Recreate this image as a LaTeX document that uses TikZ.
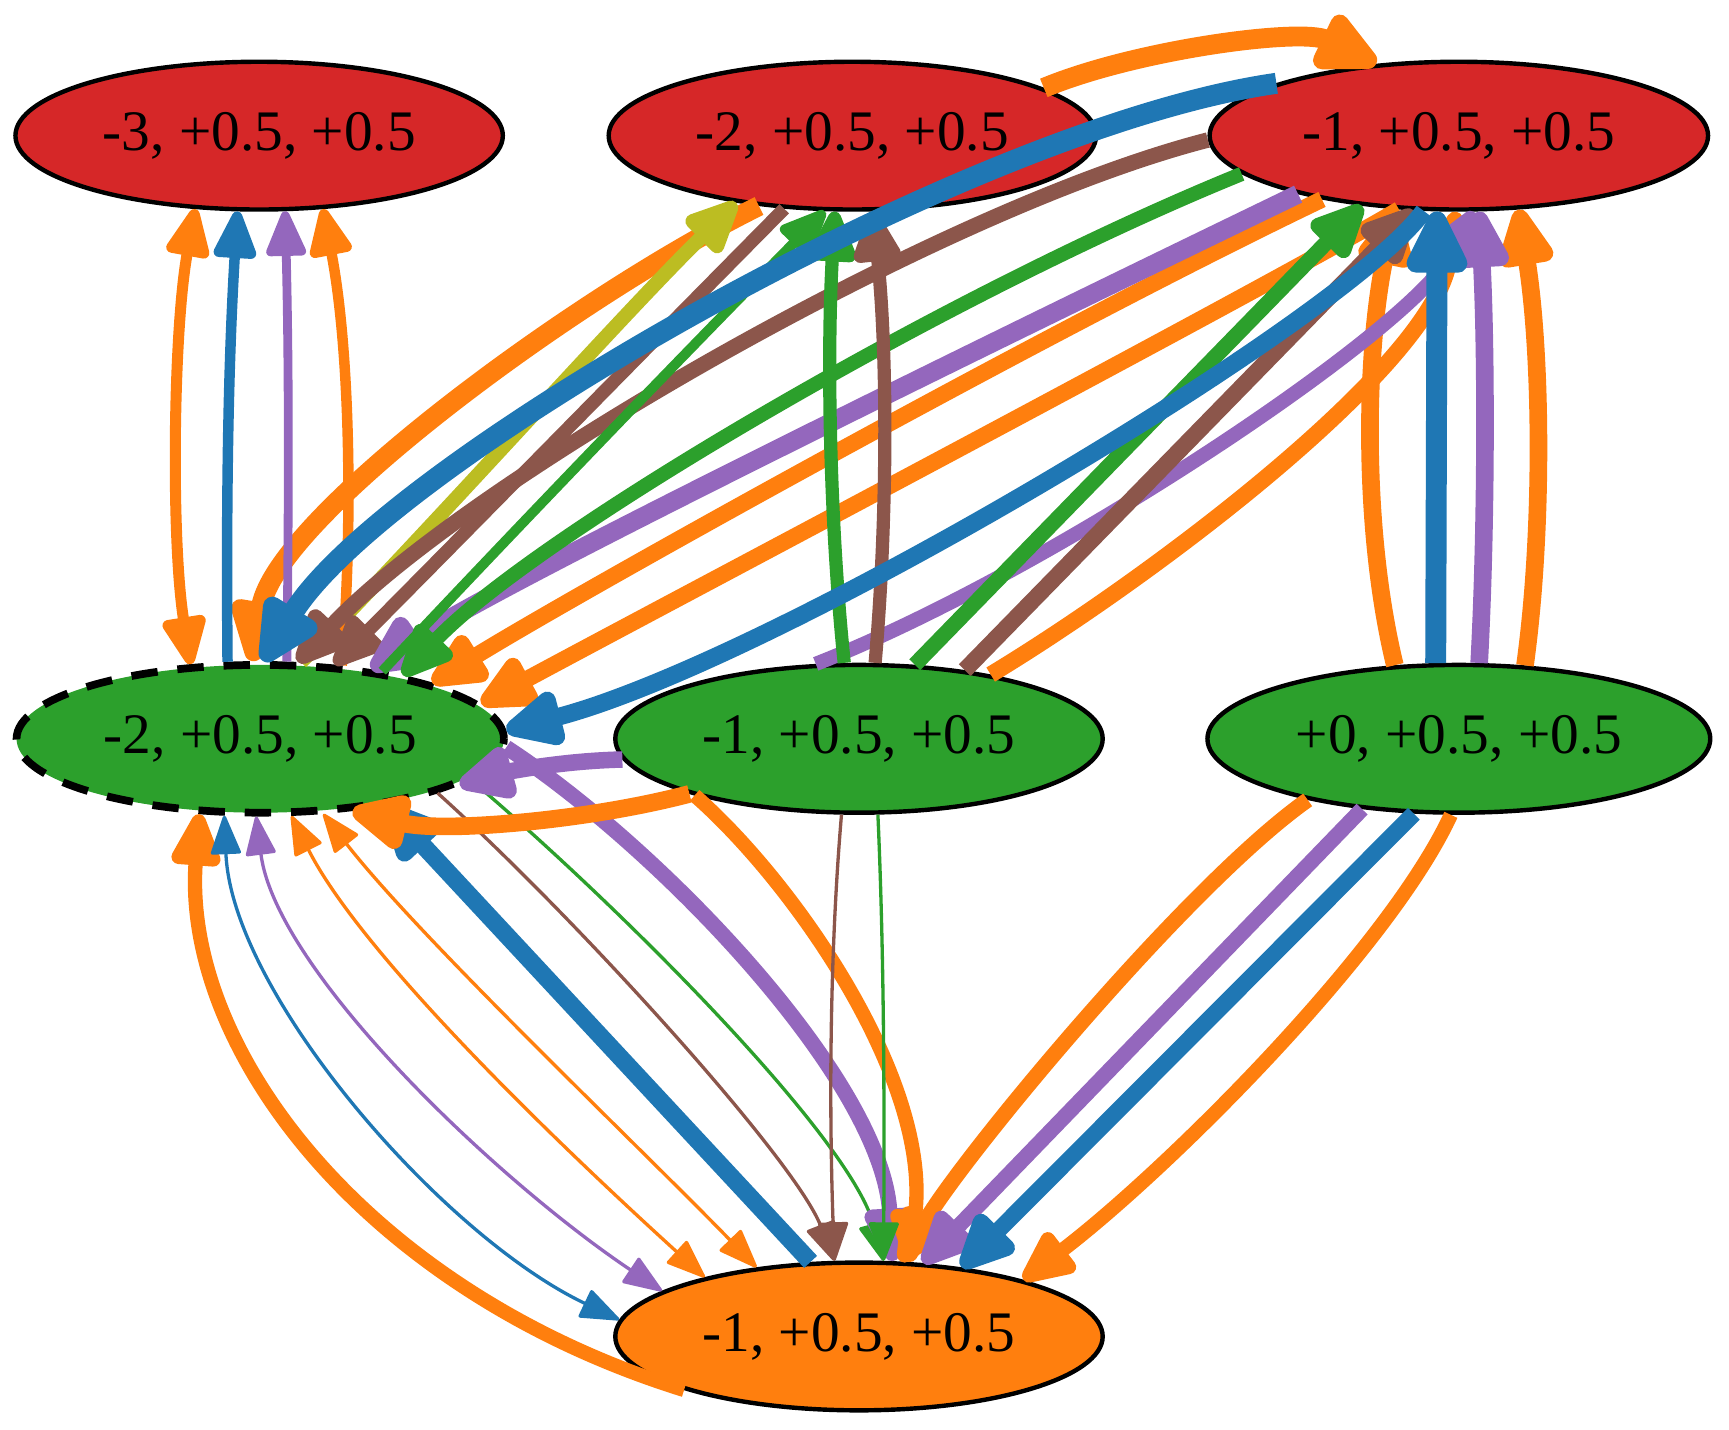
\documentclass[tikz,border=0pt]{standalone}
\usepackage{fontspec}
\setmainfont{Liberation Serif}
\usetikzlibrary{shapes.geometric, arrows.meta}
\definecolor{tabblue}{HTML}{1F77B4}
\definecolor{taborange}{HTML}{FF7F0E}
\definecolor{tabgreen}{HTML}{2CA02C}
\definecolor{tabred}{HTML}{D62728}
\definecolor{tabpurple}{HTML}{9467BD}
\definecolor{tabbrown}{HTML}{8C564B}
\definecolor{tabolive}{HTML}{BCBD22}
\begin{document}
\begin{tikzpicture}[x=1pt, y=-1pt,
  state/.style={ellipse, draw=black, line width=4pt, minimum width=442pt,
    minimum height=134pt, inner sep=0pt, font=\fontsize{52}{60}\selectfont},
  pw/.style={line width=#1pt},
  >={Triangle[length=32pt 1.9, width=22pt 2, round]},
]
\useasboundingbox (0,0) rectangle (1568,1296);

% states
\node[state, fill=tabred] (A) at (235,123) {-3, +0.5, +0.5};
\node[state, fill=tabred] (B) at (773,123) {-2, +0.5, +0.5};
\node[state, fill=tabred, minimum width=452pt] (C) at (1323,123) {-1, +0.5, +0.5};
\node[state, fill=tabgreen, line width=7pt, dash pattern=on 24pt off 18pt] (D) at (236,670) {-2, +0.5, +0.5};
\node[state, fill=tabgreen] (E) at (779,670) {-1, +0.5, +0.5};
\node[state, fill=tabgreen, minimum width=456pt] (F) at (1323,670) {+0, +0.5, +0.5};
\node[state, fill=taborange] (G) at (779,1212) {-1, +0.5, +0.5};

% upper transitions
\draw[taborange, pw=18, ->] (B.14.2) .. controls (1030,45) and (1180,25) .. (C.139);
\draw[taborange, pw=18, ->] (B.-143.3) .. controls (520,270) and (250,470) .. (D.96.8);
\draw[tabolive, pw=13, ->] (D.62.8) .. controls (400,470) and (560,290) .. (B.-150.9);

\draw[taborange, pw=10, <->] (A.229.8) .. controls (157,300) and (155,490) .. (D.133.7);
\draw[tabblue, pw=9.5, ->] (D.113.6) .. controls (205,450) and (207,330) .. (A.-106.7);
\draw[tabpurple, pw=8, ->] (D.71.7) .. controls (262,450) and (262,330) .. (A.-71);
\draw[taborange, pw=9.5, ->] (D.42.7) .. controls (320,480) and (318,320) .. (A.-49.7);

\draw[taborange, pw=15, ->] (C.-155.9) .. controls (950,300) and (520,540) .. (D.18.4);
\draw[taborange, pw=15, ->] (C.-129.1) .. controls (1150,260) and (600,550) .. (D.9.5);
\draw[taborange, pw=15, ->] (E.26.7) .. controls (1050,520) and (1300,330) .. (C.-92.6);
\draw[taborange, pw=16, ->] (F.131.8) .. controls (1235,480) and (1238,320) .. (C.-131.8);
\draw[taborange, pw=16, ->] (F.48.7) .. controls (1400,480) and (1398,320) .. (C.-51.4);

\draw[tabbrown, pw=14, ->] (C.181) .. controls (850,190) and (420,440) .. (D.64.2);
\draw[tabbrown, pw=12, ->] (B.-133.5) .. controls (576,326) and (440,465) .. (D.45);

\draw[tabpurple, pw=17, ->] (C.-160.5) .. controls (900,310) and (450,530) .. (D.32.9);
\draw[tabpurple, pw=13, ->] (E.120.6) .. controls (950,520) and (1280,300) .. (C.-79.8);
\draw[tabpurple, pw=16, ->] (F.75.8) .. controls (1348,480) and (1348,320) .. (C.-75.8);

\draw[tabgreen, pw=13, ->] (C.-170.7) .. controls (850,270) and (480,490) .. (D.24.2);
\draw[tabgreen, pw=9, ->] (D.29.7) .. controls (476,471) and (612,330) .. (B.-110.6);
\draw[tabgreen, pw=12, ->] (E.101.8) .. controls (752,470) and (750,320) .. (B.-103.5);
\draw[tabgreen, pw=14, ->] (E.53.1) -- (C.-144.2);

\draw[tabbrown, pw=12, ->] (E.78.2) .. controls (805,470) and (805,320) .. (B.-75.7);
\draw[tabbrown, pw=15, ->] (E.33.2) -- (C.-121.3);

\draw[tabblue, pw=16, ->] (C.-115) .. controls (1220,290) and (700,600) .. (D.2.6);
\draw[tabblue, pw=19, ->] (F.107.5) -- (C.-106.7);
\draw[tabblue, pw=19, ->] (C.164.1) .. controls (880,115) and (350,420) .. (D.88);

% lower transitions
\draw[taborange, pw=13, ->] (G.-163.7) .. controls (330,1170) and (165,950) .. (D.-129.7);
\draw[tabblue, pw=3, <->] (D.-115.1) .. controls (210,900) and (400,1120) .. (G.176.8);
\draw[tabpurple, pw=3, <->] (D.-93.4) .. controls (250,880) and (450,1070) .. (G.167.6);
\draw[taborange, pw=3, <->] (D.-68.6) .. controls (330,870) and (520,1050) .. (G.159.5);
\draw[taborange, pw=3, <->] (D.-50.3) .. controls (380,850) and (580,1040) .. (G.146.1);
\draw[tabblue, pw=16, ->] (G.123.8) -- (D.-28.2);
\draw[tabbrown, pw=3, ->] (D.-17) .. controls (520,830) and (720,1050) .. (G.108.3);
\draw[tabgreen, pw=3, ->] (D.-11.5) .. controls (560,820) and (770,1030) .. (G.72.5);
\draw[tabpurple, pw=14, ->] (D.-2.6) .. controls (600,770) and (800,980) .. (G.66.4);
\draw[taborange, pw=13, ->] (E.-161.2) .. controls (720,800) and (845,980) .. (G.56.2);
\draw[taborange, pw=16, ->] (E.-162.7) .. controls (530,745) and (400,755) .. (D.-38.4);
\draw[tabpurple, pw=15, ->] (E.-175.2) .. controls (510,690) and (460,700) .. (D.-13.6);
\draw[tabbrown, pw=3, ->] (E.-103.5) .. controls (752,870) and (752,1010) .. (G.108.3);
\draw[tabgreen, pw=3, ->] (E.-76.5) .. controls (802,870) and (802,1010) .. (G.72.5);

\draw[taborange, pw=14, ->] (F.-158.9) .. controls (1080,800) and (880,1040) .. (G.61.4);
\draw[tabpurple, pw=14, ->] (F.-144.9) -- (G.49.2);
\draw[tabblue, pw=15, ->] (F.-121.2) -- (G.34.6);
\draw[taborange, pw=13, ->] (F.-96.8) .. controls (1260,860) and (1060,1060) .. (G.19);
\end{tikzpicture}
\end{document}
